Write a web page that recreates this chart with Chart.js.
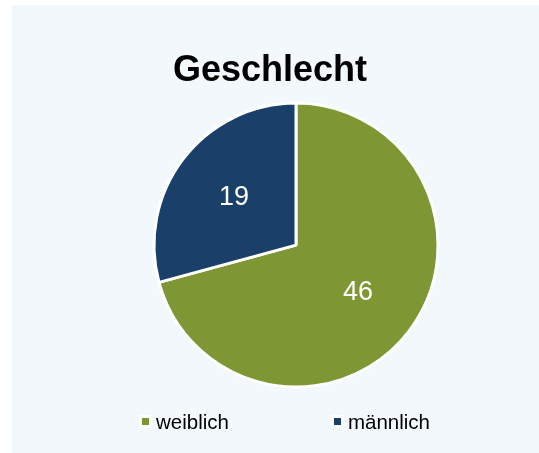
<!DOCTYPE html>
<html lang="de">
<head>
<meta charset="utf-8">
<title>Geschlecht</title>
<script src="https://cdn.jsdelivr.net/npm/chart.js@4/dist/chart.umd.min.js"></script>
<style>
    body { margin: 0; background: #ffffff; font-family: "Liberation Sans", Arial, sans-serif; }
    .panel { position: absolute; left: 12px; top: 5px; width: 527px; height: 448px; background: #f2f8fc; }
    .panel canvas { position: absolute; left: 0; top: 0; }
    .legend { position: absolute; left: 127px; top: 405px; display: flex; gap: 102px;
              font-size: 20.5px; line-height: 23px; color: #000; }
    .legend-item { display: flex; align-items: center; }
    .legend-box { width: 7px; height: 7px; border: 3px solid #ffffff; margin-right: 4px; }
</style>
</head>
<body>
<div class="panel">
    <canvas id="pieChart" width="527" height="448"></canvas>
    <div class="legend" id="legend"></div>
</div>
<script>
// Daten
const categories = ['weiblich', 'männlich'];
const values = [46, 19];
const colors = ['#7e9633', '#1a406a'];

const FONT = '"Liberation Sans", Arial, sans-serif';

// Werte in die Segmente schreiben
const sliceLabels = {
    id: 'sliceLabels',
    afterDatasetsDraw(chart) {
        const ctx = chart.ctx;
        const meta = chart.getDatasetMeta(0);
        ctx.save();
        ctx.fillStyle = '#ffffff';
        ctx.font = '27px ' + FONT;
        ctx.textAlign = 'center';
        ctx.textBaseline = 'middle';
        meta.data.forEach((arc, i) => {
            const p = arc.getProps(['x', 'y', 'startAngle', 'endAngle', 'outerRadius'], true);
            const mid = (p.startAngle + p.endAngle) / 2;
            const r = p.outerRadius * 0.55;
            ctx.fillText(String(values[i]), p.x + Math.cos(mid) * r, p.y + Math.sin(mid) * r);
        });
        ctx.restore();
    }
};

new Chart(document.getElementById('pieChart').getContext('2d'), {
    type: 'pie',
    data: {
        labels: categories,
        datasets: [{
            data: values,
            backgroundColor: colors,
            borderColor: '#ffffff',
            borderWidth: 3,
            radius: 142,
            clip: false
        }]
    },
    options: {
        responsive: false,
        animation: false,
        layout: { padding: { left: 161, right: 120, top: 0, bottom: 55 } },
        plugins: {
            legend: { display: false },
            tooltip: { enabled: false },
            title: {
                display: true,
                text: 'Geschlecht',
                align: 'start',
                color: '#000000',
                font: { family: FONT, size: 36, weight: 'bold' },
                padding: { top: 44, bottom: 0 }
            }
        }
    },
    plugins: [sliceLabels]
});

// Legende
const legend = document.getElementById('legend');
categories.forEach((name, i) => {
    const item = document.createElement('span');
    item.className = 'legend-item';
    const box = document.createElement('span');
    box.className = 'legend-box';
    box.style.background = colors[i];
    item.appendChild(box);
    item.appendChild(document.createTextNode(name));
    legend.appendChild(item);
});
</script>
</body>
</html>
